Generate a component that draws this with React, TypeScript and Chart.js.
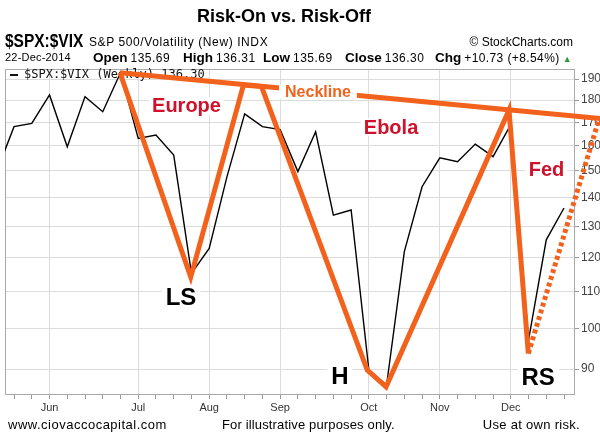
import React, { useEffect, useRef } from 'react';
import { Chart, registerables } from 'chart.js';

Chart.register(...registerables);

// Weekly closes of $SPX:$VIX, week 0 = 12-May-2014 ... week 32 = 22-Dec-2014
const weekDates = [
  '12-May', '19-May', '26-May', '02-Jun', '09-Jun', '16-Jun', '23-Jun', '30-Jun',
  '07-Jul', '14-Jul', '21-Jul', '28-Jul', '04-Aug', '11-Aug', '18-Aug', '25-Aug',
  '01-Sep', '08-Sep', '15-Sep', '22-Sep', '29-Sep', '06-Oct', '13-Oct', '20-Oct',
  '27-Oct', '03-Nov', '10-Nov', '17-Nov', '24-Nov', '01-Dec', '08-Dec', '15-Dec', '22-Dec',
];
const ratioValues = [
  149.4, 168.1, 169.5, 182.4, 159.6, 181.6, 174.7, 193.1,
  163.1, 164.5, 156.2, 115.2, 122.8, 147.7, 173.7, 168.1,
  166.8, 149.7, 165.9, 133.8, 135.6, 89.8, 86.4, 121.8,
  144.0, 155.1, 153.6, 160.7, 155.6, 169.0, 97.0, 125.57, 136.3,
];

// Month tick positions (week index) and labels
const monthWeeks = [3, 8, 12, 16, 21, 25, 29];
const monthLabels = ['Jun', 'Jul', 'Aug', 'Sep', 'Oct', 'Nov', 'Dec'];

// Y axis tick values
const yTickValues = [90, 100, 110, 120, 130, 140, 150, 160, 170, 180, 190];

// Hand-drawn head & shoulders overlay (week index, value)
const patternWeeks = [6.97, 10.96, 13.93, 14.95, 20.91, 21.97, 28.9, 29.99];
const patternValues = [193.1, 114.1, 187.1, 186.4, 89.8, 86.0, 175.4, 93.7];
const projectionWeeks = [29.99, 33.93];
const projectionValues = [93.7, 170.2];
const necklineWeeks = [6.97, 34.03];
const necklineValues = [193.1, 171.7];

// Annotation texts (week index, value)
const noteTexts = ['Europe', 'Ebola', 'Fed', 'LS', 'H', 'RS', 'Neckline'];
const noteWeeks = [10.72, 22.25, 31.01, 10.41, 19.37, 30.54, 18.13];
const noteValues = [177.3, 167.9, 150.7, 108.4, 88.4, 88.2, 183.8];

// Header quote values
const quoteLabels = ['Open', 'High', 'Low', 'Close', 'Chg'];
const quoteValues = ['135.69', '136.31', '135.69', '136.30', '+10.73 (+8.54%)'];

const ORANGE = '#F2621C';
const RED = '#D0112B';
const FONT = '"Liberation Sans", Arial, Helvetica, sans-serif';

const noteStyle = (t: string) => {
  if (t === 'Neckline') return { font: `bold 16px ${FONT}`, color: ORANGE, padX: 6 };
  if (t === 'LS' || t === 'H' || t === 'RS') return { font: `bold 24px ${FONT}`, color: '#000', padX: 4 };
  return { font: `bold 20px ${FONT}`, color: RED, padX: 3 };
};

const framePlugin = {
  id: 'frame',
  beforeDatasetsDraw(chart: any) {
    const { ctx, chartArea } = chart;
    ctx.save();
    ctx.strokeStyle = '#a9a9a9';
    ctx.lineWidth = 1;
    ctx.strokeRect(chartArea.left + 0.5, chartArea.top + 0.5, chartArea.right - chartArea.left - 1, chartArea.bottom - chartArea.top - 1);
    // legend
    ctx.fillStyle = '#111';
    ctx.fillRect(chartArea.left + 5, chartArea.top + 5, 8, 2);
    ctx.font = `12px "DejaVu Sans Mono", monospace`;
    ctx.textBaseline = 'middle';
    ctx.fillText(`$SPX:$VIX (Weekly) ${ratioValues[ratioValues.length - 1].toFixed(2)}`, chartArea.left + 19, chartArea.top + 6);
    ctx.restore();
  },
};

const notesPlugin = {
  id: 'notes',
  afterDatasetsDraw(chart: any) {
    const { ctx } = chart;
    const xs = chart.scales.x;
    const ys = chart.scales.y;
    ctx.save();
    noteTexts.forEach((t, i) => {
      const st = noteStyle(t);
      const px = xs.getPixelForValue(noteWeeks[i]);
      const py = ys.getPixelForValue(noteValues[i]);
      ctx.font = st.font;
      const w = ctx.measureText(t).width;
      const h = parseInt(st.font.match(/(\d+)px/)![1], 10);
      ctx.fillStyle = '#fff';
      ctx.fillRect(px - w / 2 - st.padX, py - h * 0.45, w + st.padX * 2, h * 0.9);
      ctx.fillStyle = st.color;
      ctx.textAlign = 'center';
      ctx.textBaseline = 'middle';
      ctx.fillText(t, px, py + 1);
    });
    ctx.restore();
  },
};

const quoteLefts = [93, 183, 263, 345, 435];

export default function App() {
  const canvasRef = useRef<HTMLCanvasElement | null>(null);

  useEffect(() => {
    document.body.style.margin = '0';
    const canvas = canvasRef.current!;
    const chart = new Chart(canvas, {
      type: 'line',
      data: {
        datasets: [
          {
            data: necklineWeeks.map((w, i) => ({ x: w, y: necklineValues[i] })),
            borderColor: ORANGE,
            borderWidth: 5,
            pointRadius: 0,
            clip: false,
            order: 0,
          } as any,
          {
            data: patternWeeks.map((w, i) => ({ x: w, y: patternValues[i] })),
            borderColor: ORANGE,
            borderWidth: 5,
            borderJoinStyle: 'miter',
            pointRadius: 0,
            clip: false,
            order: 0,
          },
          {
            data: projectionWeeks.map((w, i) => ({ x: w, y: projectionValues[i] })),
            borderColor: ORANGE,
            borderWidth: 5,
            borderDash: [4, 3],
            borderCapStyle: 'butt',
            pointRadius: 0,
            clip: false,
            order: 0,
          },
          {
            data: ratioValues.map((v, i) => ({ x: i, y: v })),
            borderColor: '#000',
            borderWidth: 1.4,
            pointRadius: 0,
            tension: 0,
            order: 1,
          },
        ],
      },
      options: {
        animation: false,
        responsive: false,
        devicePixelRatio: 1,
        layout: { padding: { left: 5, top: 69, right: 0, bottom: 26 } },
        plugins: { legend: { display: false }, tooltip: { enabled: false }, title: { display: false } },
        scales: {
          x: {
            type: 'linear',
            min: 0.49,
            max: 32.62,
            afterBuildTicks: (scale: any) => {
              scale.ticks = weekDates.map((_, i) => ({ value: i })).filter((t) => t.value >= 1);
            },
            afterFit: (scale: any) => {
              scale.height = 22;
            },
            grid: {
              color: (c: any) => (c.tick && monthWeeks.includes(c.tick.value) ? '#dcdcdc' : 'rgba(0,0,0,0)'),
              tickColor: '#9a9a9a',
              tickLength: 4,
              lineWidth: 1,
            },
            border: { display: false },
            ticks: {
              autoSkip: false,
              maxRotation: 0,
              padding: 2,
              color: '#333',
              font: { family: FONT, size: 11 },
              callback: (value: any) => {
                const k = monthWeeks.indexOf(Number(value));
                return k >= 0 ? monthLabels[k] : '';
              },
            },
          },
          y: {
            type: 'logarithmic',
            position: 'right',
            min: 84.2,
            max: 195,
            afterBuildTicks: (scale: any) => {
              scale.ticks = yTickValues.map((v) => ({ value: v }));
            },
            afterFit: (scale: any) => {
              scale.width = 25;
            },
            grid: { color: '#dcdcdc', tickColor: '#9a9a9a', tickLength: 4 },
            border: { display: false },
            ticks: {
              padding: 2,
              color: '#444',
              font: { family: FONT, size: 12 },
              callback: (value: any) => String(value),
            },
          },
        },
      },
      plugins: [framePlugin, notesPlugin],
    });
    return () => chart.destroy();
  }, []);

  const abs = (s: React.CSSProperties): React.CSSProperties => ({ position: 'absolute', whiteSpace: 'nowrap', fontFamily: FONT, color: '#000', ...s });

  return (
    <div style={{ position: 'relative', width: 600, height: 443, background: '#fff', overflow: 'hidden' }}>
      <canvas ref={canvasRef} width={600} height={443} style={{ position: 'absolute', left: 0, top: 0, width: 600, height: 443 }} />
      <div style={abs({ left: 197, top: 5, fontWeight: 'bold', fontSize: 18, lineHeight: '22px' })}>
        Risk-On vs. Risk-Off
      </div>
      <div style={abs({ left: 5, top: 31, lineHeight: '20px', fontWeight: 'bold', fontSize: 18, transform: 'scaleX(0.86)', transformOrigin: 'left center' })}>
        $SPX:$VIX
      </div>
      <div style={abs({ left: 89, top: 32, lineHeight: '20px', fontSize: 12, letterSpacing: '0.6px' })}>
        S&amp;P 500/Volatility (New) INDX
      </div>
      <div style={abs({ right: 27, top: 32, lineHeight: '20px', fontSize: 12 })}>© StockCharts.com</div>
      <div style={abs({ left: 5, top: 50, lineHeight: '15px', fontSize: 11, letterSpacing: '0.2px' })}>22-Dec-2014</div>
      {quoteLabels.map((lab, i) => (
        <div key={lab} style={abs({ left: quoteLefts[i], top: 49, lineHeight: '16px' })}>
          <span style={{ fontWeight: 'bold', fontSize: 13.5 }}>{lab}</span>
          <span style={{ fontSize: 12, letterSpacing: i === 4 ? '0.4px' : '0.5px', marginLeft: 3 }}>{quoteValues[i]}</span>
          {i === 4 ? <span style={{ marginLeft: 3, color: '#2a9a3a', fontSize: 9 }}>▲</span> : null}
        </div>
      ))}
      <div style={abs({ left: 8, top: 417, lineHeight: '16px', fontSize: 13, letterSpacing: '0.5px' })}>www.ciovaccocapital.com</div>
      <div style={abs({ left: 222, top: 417, lineHeight: '16px', fontSize: 13, letterSpacing: '0.15px' })}>For illustrative purposes only.</div>
      <div style={abs({ right: 20, top: 417, lineHeight: '16px', fontSize: 13, letterSpacing: '0.3px' })}>Use at own risk.</div>
    </div>
  );
}
